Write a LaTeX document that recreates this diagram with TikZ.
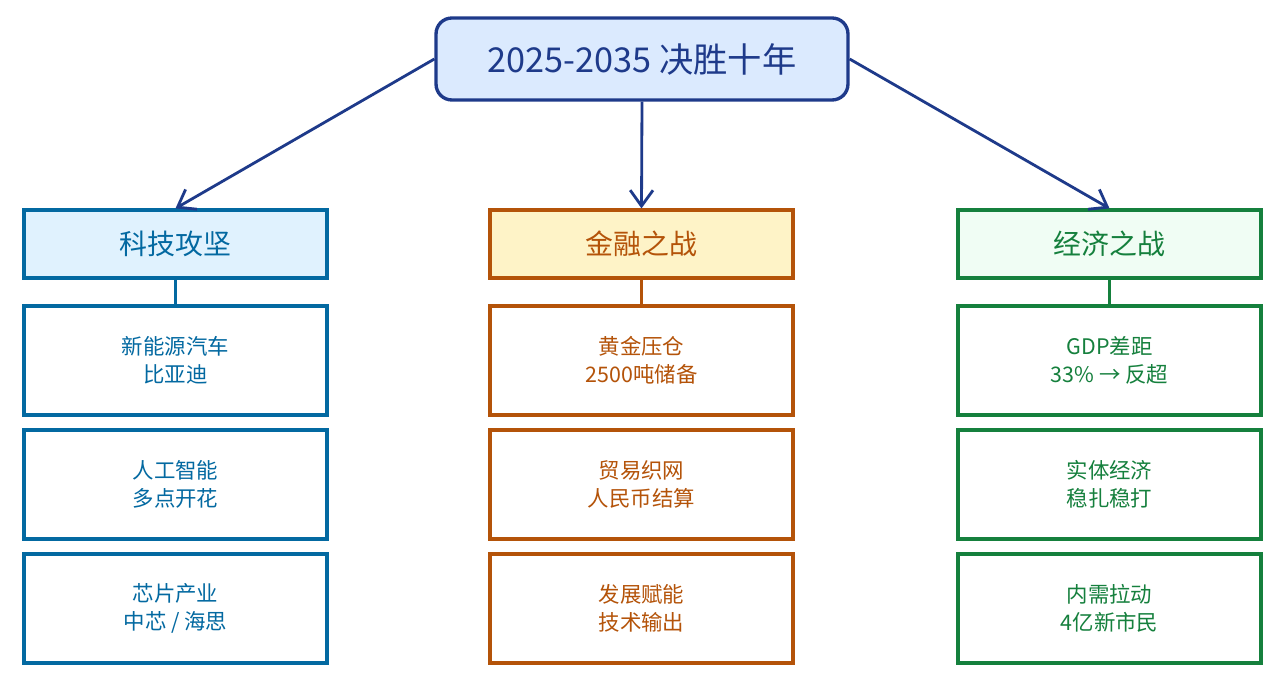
\documentclass[tikz,border=0pt]{standalone}
\usepackage{fontspec}
\setmainfont{Noto Sans CJK SC}
\usepackage{tikz}
\usetikzlibrary{arrows.meta}

\definecolor{topblue}{HTML}{1E3A8A}
\definecolor{topfill}{HTML}{DBEAFE}
\definecolor{techblue}{HTML}{0369A1}
\definecolor{techfill}{HTML}{E0F2FE}
\definecolor{finbrown}{HTML}{B45309}
\definecolor{finfill}{HTML}{FEF3C7}
\definecolor{ecogreen}{HTML}{15803D}
\definecolor{ecofill}{HTML}{F0FDF4}

\tikzset{
  headbox/.style={draw=#1, text=#1, line width=1.8pt, minimum width=6.06cm, minimum height=1.36cm, font=\fontsize{15.9}{18}\selectfont},
  itembox/.style={draw=#1, text=#1, fill=white, line width=1.8pt, minimum width=6.06cm, minimum height=2.18cm, align=center, font=\fontsize{12.2}{16}\selectfont},
  colline/.style={draw=#1, line width=1.5pt}
}

\begin{document}
\begin{tikzpicture}[x=0.02cm, y=-0.02cm]
\useasboundingbox (0,0) rectangle (1276,678);
\node[draw=topblue, fill=topfill, text=topblue, line width=1.9pt, rounded corners=9pt, minimum width=8.24cm, minimum height=1.64cm, font=\fontsize{19.5}{22}\selectfont] (top) at (642,59) {2025-2035 决胜十年};
\node[headbox=techblue, fill=techfill] (h1) at (175.5,244) {科技攻坚};
\node[headbox=finbrown, fill=finfill] (h2) at (641.5,244) {金融之战};
\node[headbox=ecogreen, fill=ecofill] (h3) at (1109.5,244) {经济之战};
\draw[-{Straight Barb[length=9pt,width=13pt]}, topblue, line width=1.6pt] (top.west) -- (h1.north);
\draw[-{Straight Barb[length=9pt,width=13pt]}, topblue, line width=1.6pt] (top.south) -- (h2.north);
\draw[-{Straight Barb[length=9pt,width=13pt]}, topblue, line width=1.6pt] (top.east) -- (h3.north);
% column boxes
\foreach \t [count=\i] in {{新能源汽车\\比亚迪},{人工智能\\多点开花},{芯片产业\\中芯 / 海思}}
   \node[itembox=techblue] (a\i) at (175.5,360.5+124*\i-124) {\t};
\foreach \t [count=\i] in {{黄金压仓\\2500吨储备},{贸易织网\\人民币结算},{发展赋能\\技术输出}}
   \node[itembox=finbrown] (b\i) at (641.5,360.5+124*\i-124) {\t};
\foreach \t [count=\i] in {{GDP差距\\33\% → 反超},{实体经济\\稳扎稳打},{内需拉动\\4亿新市民}}
   \node[itembox=ecogreen] (c\i) at (1109.5,360.5+124*\i-124) {\t};
\draw[colline=techblue] (h1.south) -- (a1.north);
\draw[colline=finbrown] (h2.south) -- (b1.north);
\draw[colline=ecogreen] (h3.south) -- (c1.north);
\end{tikzpicture}
\end{document}
